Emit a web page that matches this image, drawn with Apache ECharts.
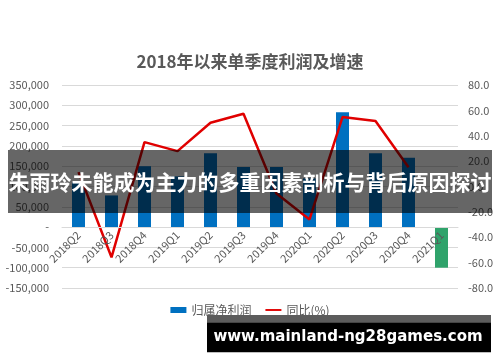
<!DOCTYPE html>
<html>
<head>
<meta charset="utf-8">
<script src="https://cdn.jsdelivr.net/npm/echarts@6/dist/echarts.min.js"></script>
<style>
html,body{margin:0;padding:0;background:#fff;}
#c{width:500px;height:362px;}
</style>
</head>
<body>
<div id="c"></div>
<script>
var categories = ['2018Q2','2018Q3','2018Q4','2019Q1','2019Q2','2019Q3','2019Q4','2020Q1','2020Q2','2020Q3','2020Q4','2021Q1'];
var profit = [110000, 78000, 150000, 125000, 182000, 148000, 148000, 120000, 283000, 182000, 171000, -100000];
var yoy = [11.3, -55.8, 35.0, 27.9, 50.3, 57.4, -5.5, -26.0, 54.7, 51.6, 15.2, null];
var leftTicks = {min: -150000, max: 350000, interval: 50000};
var rightTicks = {min: -80, max: 80, interval: 20};
var titleText = '2018年以来单季度利润及增速';
var seriesNames = ['归属净利润', '同比(%)'];
var bannerText = '朱雨玲未能成为主力的多重因素剖析与背后原因探讨';
var watermarkText = 'www.mainland-ng28games.com';

var chart = echarts.init(document.getElementById('c'));
var fontCJK = '"Noto Sans CJK SC", "Noto Sans", sans-serif';
var txt = '#595959';
var blue = '#0070c0', green = '#2fa36b', red = '#e00000';
var gridTop = 85, gridBottom = 74, chartH = 362;
// offset the category axis so it sits on the left axis' zero line
var plotH = chartH - gridTop - gridBottom;
var zeroFromBottom = plotH * (0 - leftTicks.min) / (leftTicks.max - leftTicks.min);
chart.setOption({
  animation: false,
  textStyle: {fontFamily: fontCJK},
  title: {
    text: titleText, left: 'center', top: 48,
    textStyle: {fontSize: 17, fontWeight: 'bold', color: txt, fontFamily: fontCJK}
  },
  legend: {
    top: 299, left: 'center', itemGap: 14, itemWidth: 16, itemHeight: 6,
    textStyle: {fontSize: 12, color: txt},
    data: [
      {name: seriesNames[0], icon: 'rect', itemStyle: {color: blue}},
      {name: seriesNames[1], icon: 'path://M0,0 L20,0 L20,2.4 L0,2.4 Z', itemStyle: {color: red}}
    ]
  },
  grid: {left: 62, right: 42, top: gridTop, bottom: gridBottom},
  xAxis: {
    type: 'category', data: categories, z: 10,
    offset: -zeroFromBottom,
    axisLine: {show: true, onZero: false, lineStyle: {color: '#d9d9d9'}},
    axisTick: {show: false},
    axisLabel: {rotate: 45, fontSize: 11, color: txt, margin: 6, interval: 0}
  },
  yAxis: [
    {
      type: 'value', min: leftTicks.min, max: leftTicks.max, interval: leftTicks.interval,
      axisLine: {show: false}, axisTick: {show: false},
      splitLine: {lineStyle: {color: '#d9d9d9'}},
      axisLabel: {fontSize: 11, color: txt, margin: 13,
        formatter: function (v) { return v === 0 ? '-' : v.toLocaleString('en-US'); }}
    },
    {
      type: 'value', min: rightTicks.min, max: rightTicks.max, interval: rightTicks.interval,
      axisLine: {show: false}, axisTick: {show: false}, splitLine: {show: false},
      axisLabel: {fontSize: 11, color: txt, margin: 10,
        formatter: function (v) { return v.toFixed(1); }}
    }
  ],
  series: [
    {
      name: seriesNames[0], type: 'bar', data: profit, barWidth: 13, yAxisIndex: 0,
      itemStyle: {color: function (p) { return p.value < 0 ? green : blue; }}
    },
    {
      name: seriesNames[1], type: 'line', data: yoy, yAxisIndex: 1,
      showSymbol: false, symbol: 'none', z: 5,
      lineStyle: {color: red, width: 2.5},
      itemStyle: {color: red}
    }
  ],
  graphic: [
    {type: 'rect', z: 100, shape: {x: 8, y: 150, width: 484, height: 63},
      style: {fill: 'rgba(0,0,0,0.6)'}},
    {type: 'text', z: 101, x: 250, y: 182,
      style: {text: bannerText, fill: '#fff', font: 'bold 21px ' + fontCJK,
        textAlign: 'center', textVerticalAlign: 'middle'}},
    {type: 'rect', z: 100, shape: {x: 207, y: 315, width: 284, height: 8},
      style: {fill: '#5c5c5c'}},
    {type: 'rect', z: 100, shape: {x: 207, y: 322.7, width: 284, height: 29.5},
      style: {fill: '#000'}},
    {type: 'text', z: 101, x: 348, y: 337,
      style: {text: watermarkText, fill: '#fff', font: 'bold 15px "DejaVu Sans", sans-serif',
        textAlign: 'center', textVerticalAlign: 'middle'}}
  ]
});
</script>
</body>
</html>
